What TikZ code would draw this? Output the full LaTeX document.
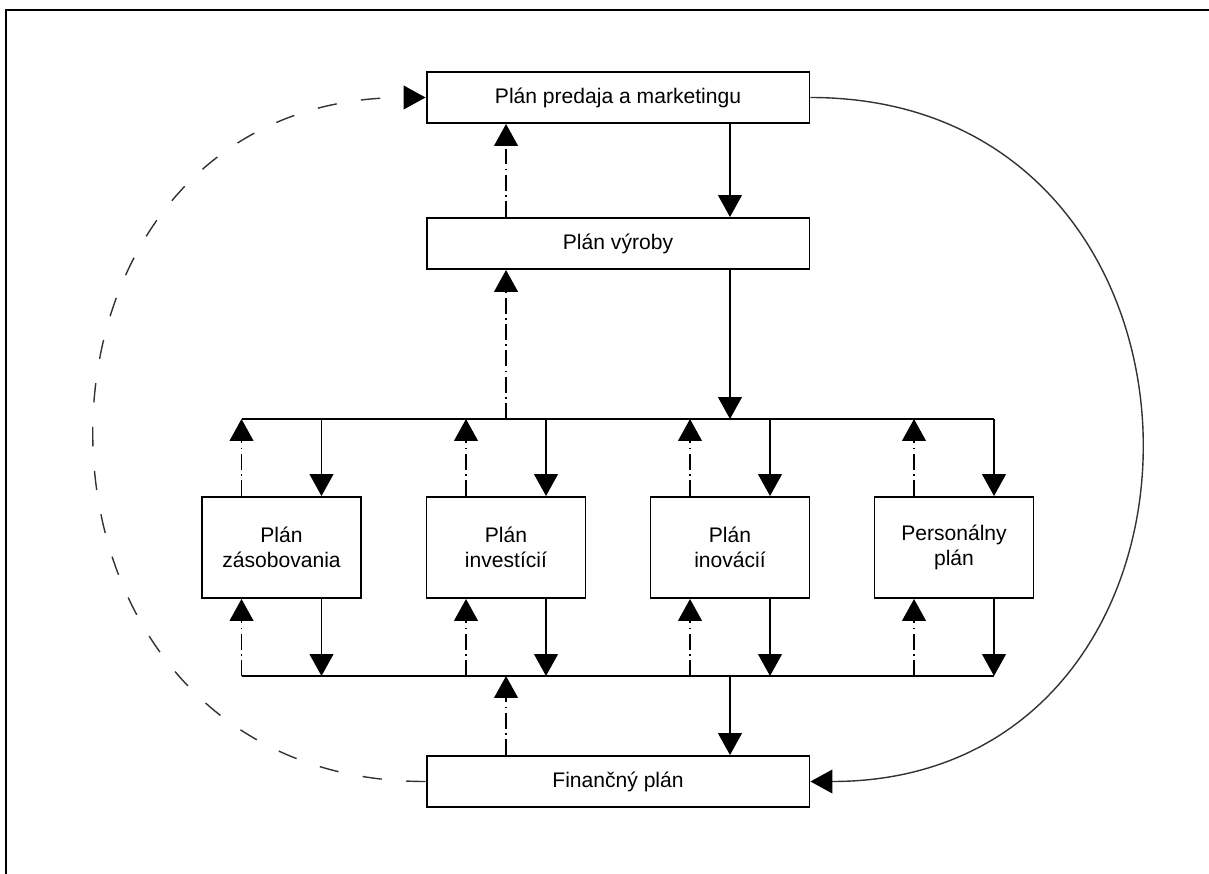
\documentclass[tikz,border=0pt]{standalone}
\usepackage{fontspec}
\setmainfont{Liberation Sans}
\usetikzlibrary{arrows.meta}

\begin{document}
\begin{tikzpicture}[x=0.02cm, y=-0.02cm, >={Triangle[width=13.5pt,length=12.5pt,black]},
    font=\fontsize{12}{14.5}\selectfont,
    plan/.style={draw, line width=1.1pt, inner sep=0pt, align=center},
    wide/.style={plan, minimum width=7.66cm, minimum height=1.02cm},
    part/.style={plan, minimum width=3.18cm, minimum height=2.02cm},
    flow/.style={line width=1.1pt},
    ctrl/.style={line width=1.1pt, dash pattern=on 9pt off 2.5pt on 1pt off 2.5pt}]
    \useasboundingbox (0,0) rectangle (1209,874);
    \draw[line width=1.6pt] (6,874) |- (1209,10);

    \node[wide] (sales) at (618,97.5) {Plán predaja a marketingu};
    \node[wide] (prod) at (618,243.5) {Plán výroby};
    \node[wide] (fin) at (618,781.5) {Finančný plán};
    \node[part] (supply) at (281.5,547.5) {Plán\\zásobovania};
    \node[part] (invest) at (506,547.5) {Plán\\investícií};
    \node[part] (innov) at (730,547.5) {Plán\\inovácií};
    \node[part] (staff) at (954,547.5) {Personálny\\plán};

    \coordinate (upbus) at (0,419);
    \coordinate (lowbus) at (0,676);
    \coordinate (main-l) at ([xshift=-2.24cm]sales.center);
    \coordinate (main-r) at ([xshift=2.24cm]sales.center);

    % links of the four partial plans
    \foreach \n in {supply,invest,innov,staff} {
        \coordinate (\n-l) at ([xshift=-8mm]\n.center);
        \coordinate (\n-r) at ([xshift=8mm]\n.center);
        \draw[ctrl,->] (\n-l |- \n.north) -- (\n-l |- upbus);
        \draw[flow,->] (\n-r |- upbus) -- (\n-r |- \n.north);
        \draw[flow,->] (\n-r |- \n.south) -- (\n-r |- lowbus);
        \draw[ctrl,->] (\n-l |- lowbus) -- (\n-l |- \n.south);
    }
    \draw[flow] (supply-l |- upbus) -- (staff-r |- upbus);
    \draw[flow] (supply-l |- lowbus) -- (staff-r |- lowbus);

    % main column
    \draw[flow,->] (main-r |- sales.south) -- (main-r |- prod.north);
    \draw[ctrl,->] (main-l |- prod.north) -- (main-l |- sales.south);
    \draw[flow,->] (main-r |- prod.south) -- (main-r |- upbus);
    \draw[ctrl,->] (main-l |- upbus) -- (main-l |- prod.south);
    \draw[flow,->] (main-r |- lowbus) -- (main-r |- fin.north);
    \draw[ctrl,->] (main-l |- fin.north) -- (main-l |- lowbus);

    % outer loops
    \draw[->, black!80, line width=0.8pt, dash pattern=on 11pt off 14pt]
        (fin.west) to[out=180, in=180, looseness=1.65] (sales.west);
    \draw[->, black!80, line width=0.8pt]
        (sales.east) to[out=0, in=0, looseness=1.65] (fin.east);
\end{tikzpicture}
\end{document}
